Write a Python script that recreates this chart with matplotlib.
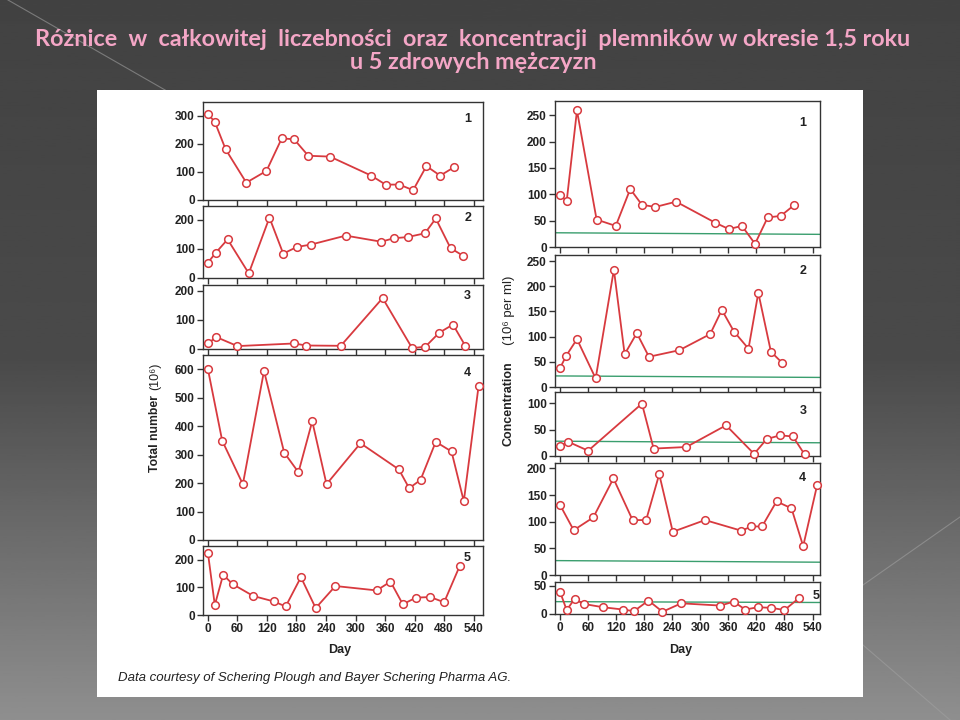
import numpy as np
import matplotlib.pyplot as plt
from matplotlib.patches import Rectangle
from matplotlib.lines import Line2D

# ------------------------------
# Data
# ------------------------------
days1 = [0, 14, 36, 78, 119, 150, 175, 204, 248, 332, 361, 389, 417, 444, 472, 500]
days2_total = [0, 16, 40, 83, 125, 153, 181, 209, 280, 352, 378, 406, 441, 463, 493, 519]
days2_conc = [0, 13, 36, 76, 115, 138, 164, 190, 255, 321, 346, 372, 403, 424, 451, 475]
days3 = [0, 17, 60, 175, 200, 270, 355, 415, 442, 470, 498, 523]
days4 = [0, 29, 71, 114, 155, 184, 212, 241, 310, 388, 409, 432, 463, 495, 520, 550]
days5 = [0, 14, 31, 50, 92, 134, 158, 189, 219, 259, 343, 371, 396, 423, 452, 480, 512]

total1 = [307, 279, 181, 62, 104, 220, 217, 158, 155, 87, 55, 55, 35, 121, 87, 117]
total2 = [53, 87, 133, 16, 208, 84, 107, 115, 146, 125, 137, 141, 154, 205, 103, 76]
total3 = [19, 41, 10, 19, 12, 11, 175, 3, 8, 56, 84, 11]
total4 = [600, 349, 196, 594, 307, 238, 417, 196, 340, 248, 182, 211, 345, 311, 136, 541]
total5 = [225, 36, 146, 112, 69, 49, 31, 137, 25, 105, 89, 121, 39, 63, 65, 46, 179]

conc1 = [99, 87, 259, 52, 40, 110, 80, 76, 86, 46, 34, 40, 6, 56, 59, 79]
conc2 = [38, 62, 95, 17, 233, 65, 107, 60, 73, 105, 153, 110, 76, 187, 70, 48]
conc3 = [19, 27, 10, 99, 14, 17, 58, 4, 32, 39, 37, 3]
conc4 = [131, 84, 108, 181, 103, 103, 189, 81, 103, 83, 91, 91, 138, 125, 54, 169]
conc5 = [39, 7, 27, 18, 12, 8, 5, 24, 4, 19, 15, 22, 8, 12, 11, 7, 29]

# reference (green) line, value at left and right edge of each concentration panel
green_left = [27, 22, 28, 27, 22]
green_right = [24, 19, 25, 24, 20.5]

day_ticks = [0, 60, 120, 180, 240, 300, 360, 420, 480, 540]
total_yticks = [[0, 100, 200, 300], [0, 100, 200], [0, 100, 200],
                [0, 100, 200, 300, 400, 500, 600], [0, 100, 200]]
conc_yticks = [[0, 50, 100, 150, 200, 250], [0, 50, 100, 150, 200, 250], [0, 50, 100],
               [0, 50, 100, 150, 200], [0, 50]]
total_ylim = [350, 248, 220, 650, 250]
conc_ylim = [277, 262, 121, 210, 57]

title = "Różnice  w  całkowitej  liczebności  oraz  koncentracji  plemników w okresie 1,5 roku\nu 5 zdrowych mężczyzn"

# ------------------------------
# Styling
# ------------------------------
W, H = 960, 720
RED = "#d83a3f"
GREEN = "#3a9e6e"
SPINE = "#333333"
TXT = "#222222"
FONT = ["Liberation Sans", "DejaVu Sans"]
plt.rcParams["font.family"] = FONT


def box(left, top, right, bottom):
    return [left / W, 1 - bottom / H, (right - left) / W, (bottom - top) / H]


fig = plt.figure(figsize=(9.6, 7.2), dpi=100)

# slide background: vertical gray gradient
bg = fig.add_axes([0, 0, 1, 1], zorder=-10)
ramp = np.interp(np.linspace(0, 1, 256), [0, 0.5, 1], [0.26, 0.29, 0.56])
bg.imshow(ramp[:, None], cmap="gray", vmin=0, vmax=1, aspect="auto",
          extent=[0, 1, 0, 1])
bg.set_xlim(0, 1)
bg.set_ylim(0, 1)
bg.axis("off")
for (x0, y0, x1, y1) in [(8, 0, 200, 110), (960, 517, 863, 585), (863, 645, 950, 720)]:
    bg.add_line(Line2D([x0 / W, x1 / W], [1 - y0 / H, 1 - y1 / H],
                       color="#a0a0a0", lw=0.8, alpha=0.6))

# white picture panel
fig.patches.append(Rectangle((97 / W, 1 - 697 / H), 766 / W, 607 / H,
                             transform=fig.transFigure, facecolor="white",
                             edgecolor="none", zorder=-5))

fig.text(473 / W, 1 - 51 / H, title, ha="center", va="center",
         color="#f4a6c6", fontsize=16.8, fontweight="bold", family=["Lato", "DejaVu Sans"],
         linespacing=1.15)

left_boxes = [(203, 102, 483, 200), (203, 206, 483, 278), (203, 285, 483, 349),
              (203, 355, 483, 540), (203, 546, 483, 615)]
right_boxes = [(555, 101, 820, 247), (555, 255, 820, 387), (555, 392, 820, 456),
               (555, 463, 820, 575), (555, 582, 820, 614)]

total_sets = [(days1, total1), (days2_total, total2), (days3, total3),
              (days4, total4), (days5, total5)]
conc_sets = [(days1, conc1), (days2_conc, conc2), (days3, conc3),
             (days4, conc4), (days5, conc5)]


def style_axes(ax, xlim, ylim, yticks, bottom):
    ax.set_xlim(*xlim)
    ax.set_ylim(0, ylim)
    ax.set_xticks(day_ticks)
    ax.set_yticks(yticks)
    for s in ax.spines.values():
        s.set_color(SPINE)
        s.set_linewidth(1.0)
    ax.tick_params(direction="out", length=4, width=1, color=SPINE,
                   labelsize=8.5, labelcolor=TXT, pad=2)
    for lab in ax.get_yticklabels():
        lab.set_fontweight("bold")
    if bottom:
        for lab in ax.get_xticklabels():
            lab.set_fontweight("bold")
    else:
        ax.tick_params(labelbottom=False)


for i in range(5):
    # total number panels (left)
    ax = fig.add_axes(box(*left_boxes[i]))
    d, v = total_sets[i]
    ax.plot(d, v, color=RED, lw=1.3, marker="o", ms=5.5, mfc="white",
            mec=RED, mew=1.1, clip_on=False, zorder=3)
    style_axes(ax, (-10, 559), total_ylim[i], total_yticks[i], i == 4)
    ax.text(0.945, 0.83 if i != 3 else 0.9, str(i + 1), transform=ax.transAxes,
            ha="center", va="center", fontsize=9, fontweight="bold", color=TXT)

    # concentration panels (right)
    ax = fig.add_axes(box(*right_boxes[i]))
    d, v = conc_sets[i]
    ax.plot([-11, 556], [green_left[i], green_right[i]], color=GREEN, lw=1.0, zorder=2)
    ax.plot(d, v, color=RED, lw=1.3, marker="o", ms=5.5, mfc="white",
            mec=RED, mew=1.1, clip_on=False, zorder=3)
    style_axes(ax, (-11, 556), conc_ylim[i], conc_yticks[i], i == 4)
    if i == 4:
        ax.text(1.0, 0.55, "5", transform=ax.transAxes, ha="right",
                va="center", fontsize=9, fontweight="bold", color=TXT)
    else:
        ypos = [0.85, 0.88, 0.7, 0.87][i]
        ax.text(0.935, ypos, str(i + 1), transform=ax.transAxes,
                ha="center", va="center", fontsize=9, fontweight="bold", color=TXT)

fig.text(340 / W, 1 - 650 / H, "Day", ha="center", va="center", fontsize=9,
         fontweight="bold", color=TXT)
fig.text(681 / W, 1 - 650 / H, "Day", ha="center", va="center", fontsize=9,
         fontweight="bold", color=TXT)

# y labels: bold name + plain unit, as in the figure
fig.text(155 / W, 1 - 434 / H, "Total number", rotation=90, ha="center",
         va="center", fontsize=8.8, fontweight="bold", color=TXT)
fig.text(155 / W, 1 - 376 / H, "(10⁶)", rotation=90, ha="center",
         va="center", fontsize=9, color=TXT)
fig.text(509 / W, 1 - 404 / H, "Concentration", rotation=90, ha="center",
         va="center", fontsize=9, fontweight="bold", color=TXT)
fig.text(509 / W, 1 - 310 / H, "(10⁶ per ml)", rotation=90, ha="center",
         va="center", fontsize=9.5, color=TXT)

fig.text(118 / W, 1 - 678 / H, "Data courtesy of Schering Plough and Bayer Schering Pharma AG.",
         ha="left", va="center", fontsize=9.5, style="italic", color=TXT)

fig.savefig("out.png", dpi=100)
